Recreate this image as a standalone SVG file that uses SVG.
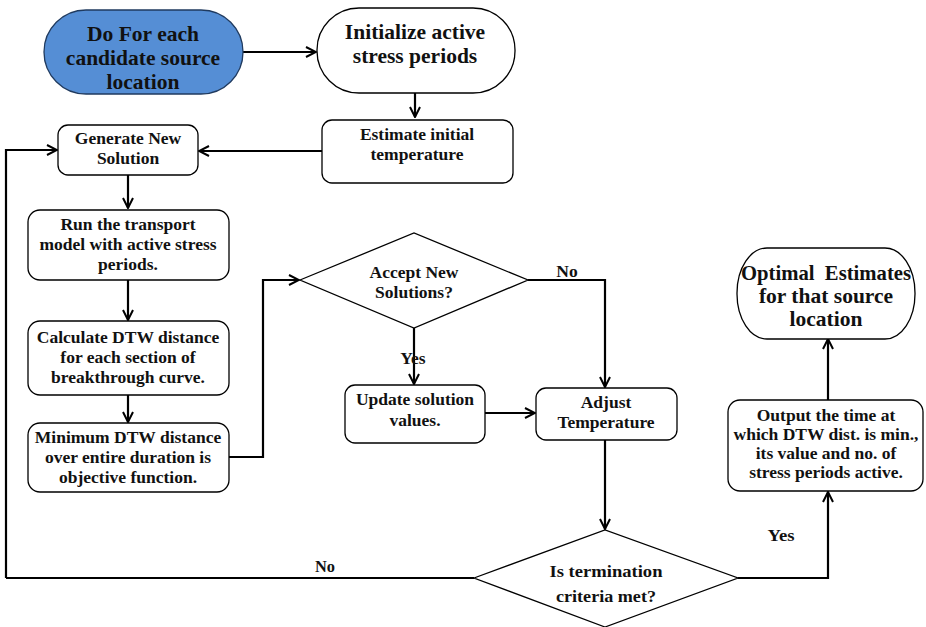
<svg xmlns="http://www.w3.org/2000/svg" width="926" height="627" viewBox="0 0 926 627">
<defs>
<marker id="ah" viewBox="0 0 12 12" refX="11" refY="6" markerWidth="12" markerHeight="12" markerUnits="userSpaceOnUse" orient="auto">
<path d="M1,1 L11,6 L1,11" fill="none" stroke="#000" stroke-width="2"/>
</marker>
<style>
.n{fill:#fff;stroke:#000;stroke-width:1.3}
.b{fill:#558ED5;stroke:#1f3a5f;stroke-width:1.3}
.c{fill:none;stroke:#000;stroke-width:2.2}
text{font-family:"Liberation Serif","DejaVu Serif",serif;font-weight:bold;fill:#111;text-anchor:middle}
.L{font-size:21.5px}
.S{font-size:17.5px}
.C{font-size:17px}
</style>
</defs>
<rect width="926" height="627" fill="#fff"/>
<g id="connectors">
<path class="c" d="M243,52 L316,52" marker-end="url(#ah)"/>
<path class="c" d="M415,93 L415,117" marker-end="url(#ah)"/>
<path class="c" d="M322,151 L199,151" marker-end="url(#ah)"/>
<path class="c" d="M6,578 L6,150 L57,150" marker-end="url(#ah)"/>
<path class="c" d="M128,175 L128,208" marker-end="url(#ah)"/>
<path class="c" d="M128,280 L128,320" marker-end="url(#ah)"/>
<path class="c" d="M128,395 L128,422" marker-end="url(#ah)"/>
<path class="c" d="M229,457 L263,457 L263,280 L299,280" marker-end="url(#ah)"/>
<path class="c" d="M528,280 L605,280 L605,387" marker-end="url(#ah)"/>
<path class="c" d="M414,328 L414,384" marker-end="url(#ah)"/>
<path class="c" d="M485,413 L535,413" marker-end="url(#ah)"/>
<path class="c" d="M605,440 L605,529" marker-end="url(#ah)"/>
<path class="c" d="M474,578 L6,578"/>
<path class="c" d="M738,578 L828,578 L828,492" marker-end="url(#ah)"/>
<path class="c" d="M828,400 L828,339" marker-end="url(#ah)"/>
<text class="S" x="567" y="277">No</text>
<text class="S" x="413" y="364">Yes</text>
<text class="C" x="325" y="572" textLength="20" lengthAdjust="spacingAndGlyphs">No</text>
<text class="C" x="781" y="541" textLength="27" lengthAdjust="spacingAndGlyphs">Yes</text>
</g>
<g id="start">
<rect class="b" x="44" y="10" width="199" height="84" rx="42"/>
<text class="L" x="143" y="41">Do For each</text>
<text class="L" x="143" y="65">candidate source</text>
<text class="L" x="143" y="89">location</text>
</g>
<g id="init">
<rect class="n" x="317" y="8" width="198" height="85" rx="42"/>
<text class="L" x="415" y="39">Initialize active</text>
<text class="L" x="415" y="63">stress periods</text>
</g>
<g id="estimate">
<rect class="n" x="322" y="120" width="191" height="63" rx="10"/>
<text class="S" x="417" y="140">Estimate initial</text>
<text class="S" x="417" y="160">temperature</text>
</g>
<g id="generate">
<rect class="n" x="58" y="125" width="140" height="50" rx="10"/>
<text class="S" x="128" y="144">Generate New</text>
<text class="S" x="128" y="164">Solution</text>
</g>
<g id="run">
<rect class="n" x="28" y="210" width="201" height="70" rx="12"/>
<text class="S" x="128" y="230">Run the transport</text>
<text class="S" x="128" y="250">model with active stress</text>
<text class="S" x="128" y="270">periods.</text>
</g>
<g id="calc">
<rect class="n" x="28" y="321" width="201" height="74" rx="12"/>
<text class="S" x="128" y="343">Calculate DTW distance</text>
<text class="S" x="128" y="363">for each section of</text>
<text class="S" x="128" y="383">breakthrough curve.</text>
</g>
<g id="minimum">
<rect class="n" x="28" y="423" width="201" height="69" rx="12"/>
<text class="S" x="128" y="443">Minimum DTW distance</text>
<text class="S" x="128" y="463">over entire duration is</text>
<text class="S" x="128" y="483">objective function.</text>
</g>
<g id="accept">
<polygon class="n" points="300,280 414,233 528,280 414,328"/>
<text class="S" x="414" y="278">Accept New</text>
<text class="S" x="414" y="298">Solutions?</text>
</g>
<g id="update">
<rect class="n" x="345" y="385" width="140" height="58" rx="10"/>
<text class="S" x="415" y="405">Update solution</text>
<text class="S" x="415" y="426">values.</text>
</g>
<g id="adjust">
<rect class="n" x="536" y="388" width="141" height="52" rx="10"/>
<text class="S" x="606" y="408">Adjust</text>
<text class="S" x="606" y="428">Temperature</text>
</g>
<g id="termination">
<polygon class="n" points="474,578 605,530 738,578 605,627"/>
<text class="C" x="606" y="577" textLength="113" lengthAdjust="spacingAndGlyphs">Is termination</text>
<text class="C" x="606" y="602" textLength="100" lengthAdjust="spacingAndGlyphs">criteria met?</text>
</g>
<g id="output">
<rect class="n" x="728" y="400" width="195" height="91" rx="12"/>
<text class="S" x="826" y="421">Output the time at</text>
<text class="S" x="826" y="440">which DTW dist. is min.,</text>
<text class="S" x="826" y="459">its value and no. of</text>
<text class="S" x="826" y="478">stress periods active.</text>
</g>
<g id="optimal">
<rect class="n" x="737" y="248" width="178" height="91" rx="30" ry="45"/>
<text class="L" x="826" y="280" xml:space="preserve" textLength="170" lengthAdjust="spacingAndGlyphs">Optimal  Estimates</text>
<text class="L" x="826" y="303">for that source</text>
<text class="L" x="826" y="326">location</text>
</g>
</svg>
